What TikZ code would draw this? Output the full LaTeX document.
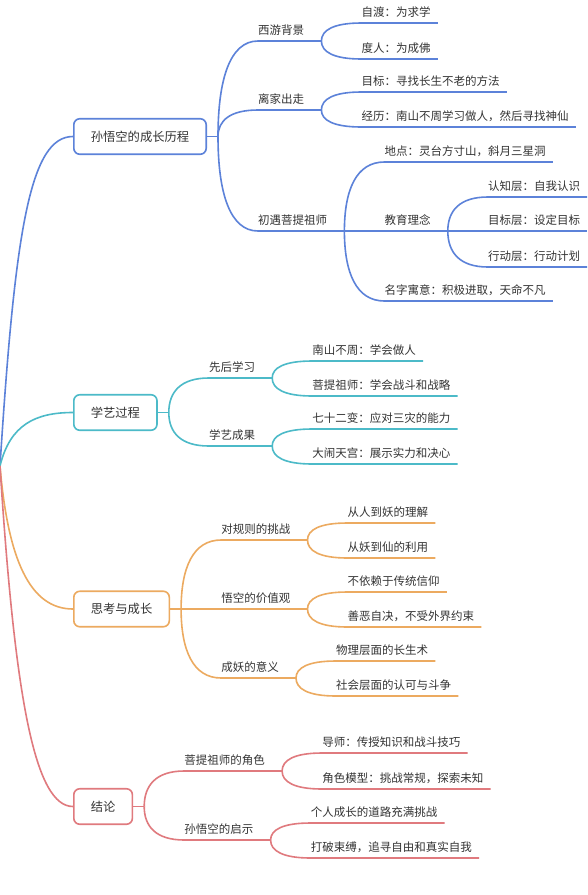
\documentclass[tikz,border=0pt]{standalone}
\usepackage{fontspec}
\setmainfont{Noto Sans CJK SC}
\usetikzlibrary{calc}

\definecolor{mmblue}{RGB}{92,130,217}
\definecolor{mmcyan}{RGB}{76,186,200}
\definecolor{mmorange}{RGB}{236,170,96}
\definecolor{mmred}{RGB}{224,122,126}

\begin{document}
\begin{tikzpicture}[
  x=1pt,y=-1pt,
  every node/.style={text=black!80},
  mainbox/.style={draw,anchor=west,rounded corners=6pt,line width=1.6pt,fill=white,
    minimum height=35.5pt,inner xsep=17pt,font=\fontsize{12.3}{14}\selectfont},
  topic/.style={anchor=south west,inner xsep=0pt,inner ysep=4.6pt,text depth=2pt,
    font=\fontsize{11.5}{14}\selectfont},
  wire/.style={line width=1.6pt},
  twig/.style={to path={.. controls ($(\tikztostart)!0.6!(\tikztostart |- \tikztotarget)$)
    and ([xshift=12pt]\tikztostart |- \tikztotarget) .. (\tikztotarget)}}
]
\fill[white] (0,0) rectangle (587,895);
\useasboundingbox (0,0) rectangle (587,895);

% root and the four main topics
\coordinate (root) at (0,466);
\node[mainbox,draw=mmblue] (b1) at (73,136.5) {孙悟空的成长历程};
\node[mainbox,draw=mmcyan] (b2) at (73,412.5) {学艺过程};
\node[mainbox,draw=mmorange] (b3) at (73,609) {思考与成长};
\node[mainbox,draw=mmred] (b4) at (73,806.5) {结论};
\draw[wire,mmblue] (root) .. controls (15,230) and (30,136.5) .. (b1.west);
\draw[wire,mmcyan] (root) .. controls (10,425) and (35,412.5) .. (b2.west);
\draw[wire,mmorange] (root) .. controls (8,560) and (30,609) .. (b3.west);
\draw[wire,mmred] (root) .. controls (15,700) and (35,806.5) .. (b4.west);
\foreach \b/\c in {b1/mmblue,b2/mmcyan,b3/mmorange,b4/mmred} {
  \draw[wire,\c] (\b.east) -- ([xshift=11pt]\b.east) coordinate (f\b);
}

% subtopics (with their own fork)
\foreach \f/\y/\n/\c/\txt in {fb1/41/s1/mmblue/西游背景, fb1/110/s2/mmblue/离家出走,
    fb1/231/s3/mmblue/初遇菩提祖师, fs3/231/s4/mmblue/教育理念,
    fb2/378/t1/mmcyan/先后学习, fb2/446/t2/mmcyan/学艺成果,
    fb3/540/u1/mmorange/对规则的挑战, fb3/609/u2/mmorange/悟空的价值观,
    fb3/678/u3/mmorange/成妖的意义,
    fb4/771/v1/mmred/菩提祖师的角色, fb4/840/v2/mmred/孙悟空的启示} {
  \node[topic] (\n) at ([xshift=40pt]\f |- 0,\y) {\txt};
  \draw[wire,\c] (\f) to[twig] (\n.south west) -- ([xshift=17pt]\n.south east) coordinate (f\n);
}

% leaves
\foreach \f/\y/\n/\c/\txt in {
    fs1/23/l1/mmblue/{自渡：为求学}, fs1/59/l2/mmblue/{度人：为成佛},
    fs2/92/l3/mmblue/{目标：寻找长生不老的方法},
    fs2/127/l4/mmblue/{经历：南山不周学习做人，然后寻找神仙},
    fs3/162/l5/mmblue/{地点：灵台方寸山，斜月三星洞},
    fs3/301/l6/mmblue/{名字寓意：积极进取，天命不凡},
    fs4/197/l7/mmblue/{认知层：自我认识}, fs4/231/l8/mmblue/{目标层：设定目标},
    fs4/267/l9/mmblue/{行动层：行动计划},
    ft1/361/m1/mmcyan/{南山不周：学会做人}, ft1/396/m2/mmcyan/{菩提祖师：学会战斗和战略},
    ft2/429/m3/mmcyan/{七十二变：应对三灾的能力}, ft2/464/m4/mmcyan/{大闹天宫：展示实力和决心},
    fu1/523/n1/mmorange/{从人到妖的理解}, fu1/558/n2/mmorange/{从妖到仙的利用},
    fu2/592/n3/mmorange/{不依赖于传统信仰}, fu2/627/n4/mmorange/{善恶自决，不受外界约束},
    fu3/661/n5/mmorange/{物理层面的长生术}, fu3/696/n6/mmorange/{社会层面的认可与斗争},
    fv1/753/o1/mmred/{导师：传授知识和战斗技巧}, fv1/789/o2/mmred/{角色模型：挑战常规，探索未知},
    fv2/823/o3/mmred/{个人成长的道路充满挑战}, fv2/858/o4/mmred/{打破束缚，追寻自由和真实自我}} {
  \node[topic] (\n) at ([xshift=40pt]\f |- 0,\y) {\txt};
  \draw[wire,\c] (\f) to[twig] (\n.south west) -- ([xshift=7pt]\n.south east);
}
\end{tikzpicture}
\end{document}
